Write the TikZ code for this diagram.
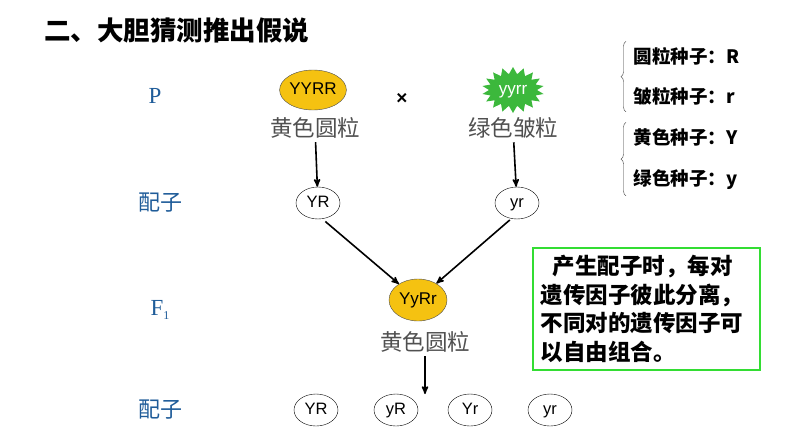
\documentclass[tikz,border=0pt]{standalone}
\usepackage{fontspec}
\setmainfont{Liberation Sans}
\newfontfamily\cjk{Noto Sans CJK SC}
\newfontfamily\timesf{Liberation Serif}
\usetikzlibrary{arrows,shapes.geometric,shapes.symbols,decorations.pathreplacing}
\definecolor{gold}{HTML}{F5C211}
\definecolor{leaf}{HTML}{3CB83C}
\definecolor{boxgreen}{HTML}{33DD33}
\definecolor{genblue}{HTML}{1F5C99}
\definecolor{capgray}{HTML}{505050}

\begin{document}
\begin{tikzpicture}[x=1pt, y=-1pt, >=stealth', line width=1.6pt]
\useasboundingbox (0,0) rectangle (794,447);

\tikzstyle{every node}=[font=\cjk\bfseries\fontsize{26.5}{26.5}\selectfont]
\draw (40,30) node[anchor=west] (title) {二、大胆猜测推出假说};

% generations
\tikzstyle{every node}=[text=genblue, font=\cjk\fontsize{22}{22}\selectfont]
\draw (155,96)  node[font=\timesf\fontsize{23}{23}\selectfont] (p) {P}
      (160,203) node (gam1) {配子}
      (160,310) node[font=\timesf\fontsize{23}{23}\selectfont] (f1) {F\raisebox{-0.45ex}{\fontsize{12}{12}\selectfont 1}}
      (160,410) node (gam2) {配子};

% parents
\tikzstyle{every node}=[font=\fontsize{17}{17}\selectfont, inner sep=0pt, text height=12pt, text depth=3pt]
\draw (313,90) node[ellipse, fill=gold, draw=black!70, thin, minimum width=58pt, minimum height=40pt] (yyrr) {YYRR}
      (513,90) node[starburst, starburst points=18, starburst point height=7pt, random starburst=0,
                    fill=leaf, draw=none, text=white, minimum width=62pt, minimum height=46pt] (gyyrr) {yyrr}
      (402,100) node[font=\bfseries\fontsize{19}{19}\selectfont] (cross) {×}
      (418,300) node[ellipse, fill=gold, draw=black!70, thin, minimum width=58pt, minimum height=42pt] (yyrr1) {YyRr};

\tikzstyle{every node}=[text=capgray, font=\cjk\fontsize{22.5}{22.5}\selectfont, inner sep=3pt]
\draw (315,128) node (cap1) {黄色圆粒}
      (513,128) node (cap2) {绿色皱粒}
      (425,342) node (cap3) {黄色圆粒};

% gametes
\tikzstyle{every node}=[ellipse, draw=black, thin, fill=white, minimum width=44pt, minimum height=32pt,
                        inner sep=0pt, text height=12pt, text depth=3pt, font=\fontsize{16.5}{16.5}\selectfont]
\draw (318,203) node (g1) {YR}
      (517,203) node (g2) {yr}
      (316,410) node (b1) {YR}
      (396,410) node (b2) {yR}
      (470,410) node (b3) {Yr}
      (550,410) node (b4) {yr};

\coordinate (drop) at (425,394);

\draw[->] (cap1) -- (g1);
\draw[->] (cap2) -- (g2);
\draw[->, shorten <=4pt] (g1.-75) -- (yyrr1.140);
\draw[->, shorten <=2pt] (g2.-110) -- (yyrr1.42);
\draw[->] (cap3) -- (drop);

% note box
\tikzstyle{every node}=[draw=boxgreen, line width=2pt, minimum width=227pt, minimum height=122pt,
                        text width=212pt, align=left, inner sep=6pt,
                        font=\cjk\bfseries\fontsize{22.5}{28.5}\selectfont]
\draw (646.5,309) node (note) {\hspace{0.55em}产生配子时，每对\\遗传因子彼此分离，\\不同对的遗传因子可\\以自由组合。};

% legend
\tikzstyle{every node}=[anchor=west, inner sep=1pt, font=\cjk\bfseries\fontsize{18.5}{18.5}\selectfont]
\draw (632,56)  node (leg1) {圆粒种子：\textbf{R}}
      (632,97)  node (leg2) {皱粒种子：\textbf{r}}
      (632,137) node (leg3) {黄色种子：\textbf{Y}}
      (632,180) node (leg4) {绿色种子：\textbf{y}};

\draw[thin, black!80, decorate, decoration={brace, amplitude=5pt}] ([xshift=-6pt, yshift=-4pt]leg2.south west) -- ([xshift=-6pt, yshift=4pt]leg1.north west);
\draw[thin, black!80, decorate, decoration={brace, amplitude=5pt}] ([xshift=-6pt, yshift=-4pt]leg4.south west) -- ([xshift=-6pt, yshift=4pt]leg3.north west);

\end{tikzpicture}
\end{document}
